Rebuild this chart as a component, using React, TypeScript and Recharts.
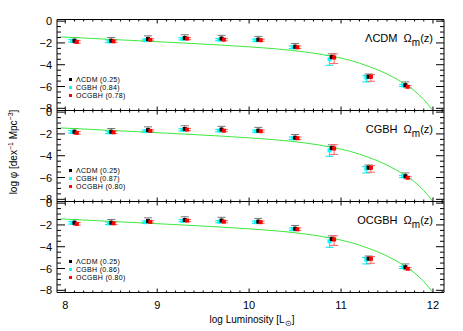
import { ComposedChart, ErrorBar, Line, Scatter, XAxis, YAxis } from 'recharts'

// luminosity bins (log L) and the small offsets used to separate the three samples
const binX = [8.1, 8.5, 8.9, 9.3, 9.7, 10.1, 10.5, 10.9, 11.3, 11.7]
const cgbhX = [8.075, 8.475, 8.875, 9.275, 9.675, 10.075, 10.475, 10.875, 11.275, 11.675]
const ocgbhX = [8.125, 8.525, 8.925, 9.325, 9.725, 10.125, 10.525, 10.925, 11.325, 11.725]

const lcdmY = [-1.8, -1.8, -1.65, -1.55, -1.6, -1.7, -2.35, -3.3, -5.1, -5.88]
const lcdmUp = [0.3, 0.3, 0.3, 0.3, 0.3, 0.3, 0.3, 0.3, 0.25, 0.3]
const lcdmDn = [0.12, 0.12, 0.12, 0.12, 0.12, 0.12, 0.12, 0.15, 0.12, 0.1]

const cgbhY = [-1.8, -1.85, -1.75, -1.62, -1.7, -1.75, -2.4, -3.5, -5.18, -5.9]
const cgbhUp = [0.12, 0.12, 0.1, 0.1, 0.1, 0.1, 0.12, 0.35, 0.2, 0.1]
const cgbhDn = [0.12, 0.12, 0.1, 0.1, 0.1, 0.1, 0.12, 0.55, 0.4, 0.1]

const ocgbhY = [-1.9, -1.85, -1.72, -1.6, -1.7, -1.75, -2.4, -3.33, -5.1, -6.02]
const ocgbhUp = [0.12, 0.12, 0.1, 0.1, 0.1, 0.1, 0.12, 0.33, 0.2, 0.1]
const ocgbhDn = [0.12, 0.12, 0.1, 0.1, 0.1, 0.1, 0.12, 0.55, 0.42, 0.1]

// fitted curve
const curveX = [7.95, 8.2, 8.5, 8.8, 9.1, 9.4, 9.7, 10.0, 10.3, 10.6, 10.9, 11.1, 11.3, 11.5, 11.6, 11.7, 11.8, 11.9, 12.0]
const curveY = [-1.45, -1.55, -1.68, -1.8, -1.93, -2.06, -2.2, -2.36, -2.55, -2.82, -3.22, -3.6, -4.15, -4.85, -5.3, -5.8, -6.4, -7.2, -8.2]

const panelNames = ['ΛCDM', 'CGBH', 'OCGBH']
const legendNames = ['ΛCDM', 'CGBH', 'OCGBH']
const legendValues = [
  ['0.25', '0.84', '0.78'],
  ['0.25', '0.87', '0.80'],
  ['0.25', '0.86', '0.80'],
]

const xMajor = [8, 9, 10, 11, 12]
const xTicks = Array.from({ length: 42 }, (_, i) => +(8 + i * 0.1).toFixed(1))
const yTicks = Array.from({ length: 17 }, (_, i) => -8 + i * 0.5)

const W = 463
const H = 331
const LEFT = 57
const RIGHT = 444
const PANEL_TOPS = [19.5, 110.5, 201.5]
const PANEL_H = 91
const X_DOMAIN: [number, number] = [7.91, 12.12]
const Y_DOMAIN: [number, number] = [-8.2, 0.15]
const FONT = '"Liberation Sans", Arial, sans-serif'

const mk = (xs: number[], ys: number[], up: number[], dn: number[]) =>
  xs.map((x, i) => ({ x, y: ys[i], err: [dn[i], up[i]] }))

const lcdmData = mk(binX, lcdmY, lcdmUp, lcdmDn)
const cgbhData = mk(cgbhX, cgbhY, cgbhUp, cgbhDn)
const ocgbhData = mk(ocgbhX, ocgbhY, ocgbhUp, ocgbhDn)
const curveData = curveX.map((x, i) => ({ x, y: curveY[i] }))

const isMajorX = (v: number) => xMajor.some((m) => Math.abs(m - v) < 1e-6)
const isMajorY = (v: number) => Math.abs(v / 2 - Math.round(v / 2)) < 1e-6
const fmt = (v: number) => (v < 0 ? `\u2212${Math.abs(v)}` : `${v}`)

function BottomTick(props: any) {
  const { x, y, payload, showLabel } = props
  const major = isMajorX(payload.value)
  return (
    <g>
      <line x1={x} x2={x} y1={y} y2={y - (major ? 4 : 2)} stroke="#000" />
      {showLabel && major && (
        <text x={x} y={y + 16} textAnchor="middle" fontSize={11} fontFamily={FONT} fill="#000">
          {payload.value}
        </text>
      )}
    </g>
  )
}

function TopTick(props: any) {
  const { x, y, payload } = props
  const major = isMajorX(payload.value)
  return <line x1={x} x2={x} y1={y} y2={y + (major ? 4 : 2)} stroke="#000" />
}

function LeftTick(props: any) {
  const { x, y, payload } = props
  const major = isMajorY(payload.value)
  return (
    <g>
      <line x1={x} x2={x + (major ? 8 : 4)} y1={y} y2={y} stroke="#000" />
      {major && (
        <text x={x - 5} y={y + 4} textAnchor="end" fontSize={11} fontFamily={FONT} fill="#000">
          {fmt(payload.value)}
        </text>
      )}
    </g>
  )
}

function RightTick(props: any) {
  const { x, y, payload } = props
  const major = isMajorY(payload.value)
  return <line x1={x} x2={x - (major ? 8 : 4)} y1={y} y2={y} stroke="#000" />
}

const square = (color: string) => (p: any) => (
  <rect x={p.cx - 2} y={p.cy - 2} width={4} height={4} fill={color} />
)

function Panel({ idx }: { idx: number }) {
  const top = PANEL_TOPS[idx]
  const margin = { top: top - 5, bottom: H - (top + PANEL_H) - 5, left: LEFT - 5, right: W - RIGHT - 5 }
  return (
    <div style={{ position: 'absolute', left: 0, top: 0 }}>
      <ComposedChart width={W} height={H} margin={margin}>
        <XAxis
          xAxisId="b"
          type="number"
          dataKey="x"
          domain={X_DOMAIN}
          allowDataOverflow
          ticks={xTicks}
          interval={0}
          height={5}
          tickSize={0}
          tickMargin={0}
          tickLine={false}
          axisLine={{ stroke: '#000' }}
          tick={(p: any) => <BottomTick {...p} showLabel={idx === 2} />}
        />
        <XAxis
          xAxisId="t"
          orientation="top"
          type="number"
          dataKey="x"
          domain={X_DOMAIN}
          allowDataOverflow
          ticks={xTicks}
          interval={0}
          height={5}
          tickSize={0}
          tickMargin={0}
          tickLine={false}
          axisLine={{ stroke: '#000' }}
          tick={(p: any) => <TopTick {...p} />}
        />
        <YAxis
          yAxisId="l"
          type="number"
          dataKey="y"
          domain={Y_DOMAIN}
          allowDataOverflow
          ticks={yTicks}
          interval={0}
          width={5}
          tickSize={0}
          tickMargin={0}
          tickLine={false}
          axisLine={{ stroke: '#000' }}
          tick={(p: any) => <LeftTick {...p} />}
        />
        <YAxis
          yAxisId="r"
          orientation="right"
          type="number"
          dataKey="y"
          domain={Y_DOMAIN}
          allowDataOverflow
          ticks={yTicks}
          interval={0}
          width={5}
          tickSize={0}
          tickMargin={0}
          tickLine={false}
          axisLine={{ stroke: '#000' }}
          tick={(p: any) => <RightTick {...p} />}
        />
        <Scatter xAxisId="b" yAxisId="l" data={cgbhData} shape={square('#00ffff')} isAnimationActive={false}>
          <ErrorBar dataKey="err" direction="y" width={4} stroke="#00e5e5" strokeWidth={1} />
        </Scatter>
        <Scatter xAxisId="b" yAxisId="l" data={lcdmData} shape={square('#000000')} isAnimationActive={false}>
          <ErrorBar dataKey="err" direction="y" width={4} stroke="#777777" strokeWidth={1} />
        </Scatter>
        <Scatter xAxisId="b" yAxisId="l" data={ocgbhData} shape={square('#ff0000')} isAnimationActive={false}>
          <ErrorBar dataKey="err" direction="y" width={4} stroke="#ff6060" strokeWidth={1} />
        </Scatter>
        <Line
          xAxisId="b"
          yAxisId="l"
          data={curveData}
          dataKey="y"
          type="monotone"
          stroke="#3ee83e"
          strokeWidth={1}
          dot={false}
          isAnimationActive={false}
        />
      </ComposedChart>
      {/* panel title */}
      <div
        style={{
          position: 'absolute',
          right: W - 433,
          top: top + 12,
          fontFamily: FONT,
          fontSize: 11,
          whiteSpace: 'nowrap',
        }}
      >
        {panelNames[idx]}&nbsp;&nbsp;Ω<sub style={{ fontSize: 10, verticalAlign: -4 }}>m</sub>(z)
      </div>
      {/* legend */}
      {legendNames.map((n, j) => (
        <div
          key={n}
          style={{
            position: 'absolute',
            left: 69,
            top: top + 56 + j * 8,
            fontFamily: FONT,
            fontSize: 7,
            letterSpacing: 0.3,
            lineHeight: '8px',
            height: 8,
            whiteSpace: 'nowrap',
            display: 'flex',
            alignItems: 'center',
          }}
        >
          <span style={{ width: 3, height: 3, background: ['#000', '#00ffff', '#ff0000'][j], display: 'inline-block', marginRight: 4 }} />
          {n} ({legendValues[idx][j]})
        </div>
      ))}
    </div>
  )
}

export default function App() {
  return (
    <div style={{ position: 'absolute', left: 0, top: 0, width: W, height: H, background: '#fff', overflow: 'hidden' }}>
      <Panel idx={0} />
      <Panel idx={1} />
      <Panel idx={2} />
      <div
        style={{
          position: 'absolute',
          left: 13,
          top: 152,
          transform: 'translate(-50%, -50%) rotate(-90deg)',
          fontFamily: FONT,
          fontSize: 10,
          whiteSpace: 'nowrap',
        }}
      >
        log φ [dex<sup style={{ fontSize: 7 }}>−1</sup> Mpc<sup style={{ fontSize: 7 }}>−3</sup>]
      </div>
      <div
        style={{
          position: 'absolute',
          left: 252,
          top: 314,
          transform: 'translateX(-50%)',
          fontFamily: FONT,
          fontSize: 10,
          whiteSpace: 'nowrap',
        }}
      >
        log Luminosity [L<sub style={{ fontSize: 8 }}>⊙</sub>]
      </div>
    </div>
  )
}
